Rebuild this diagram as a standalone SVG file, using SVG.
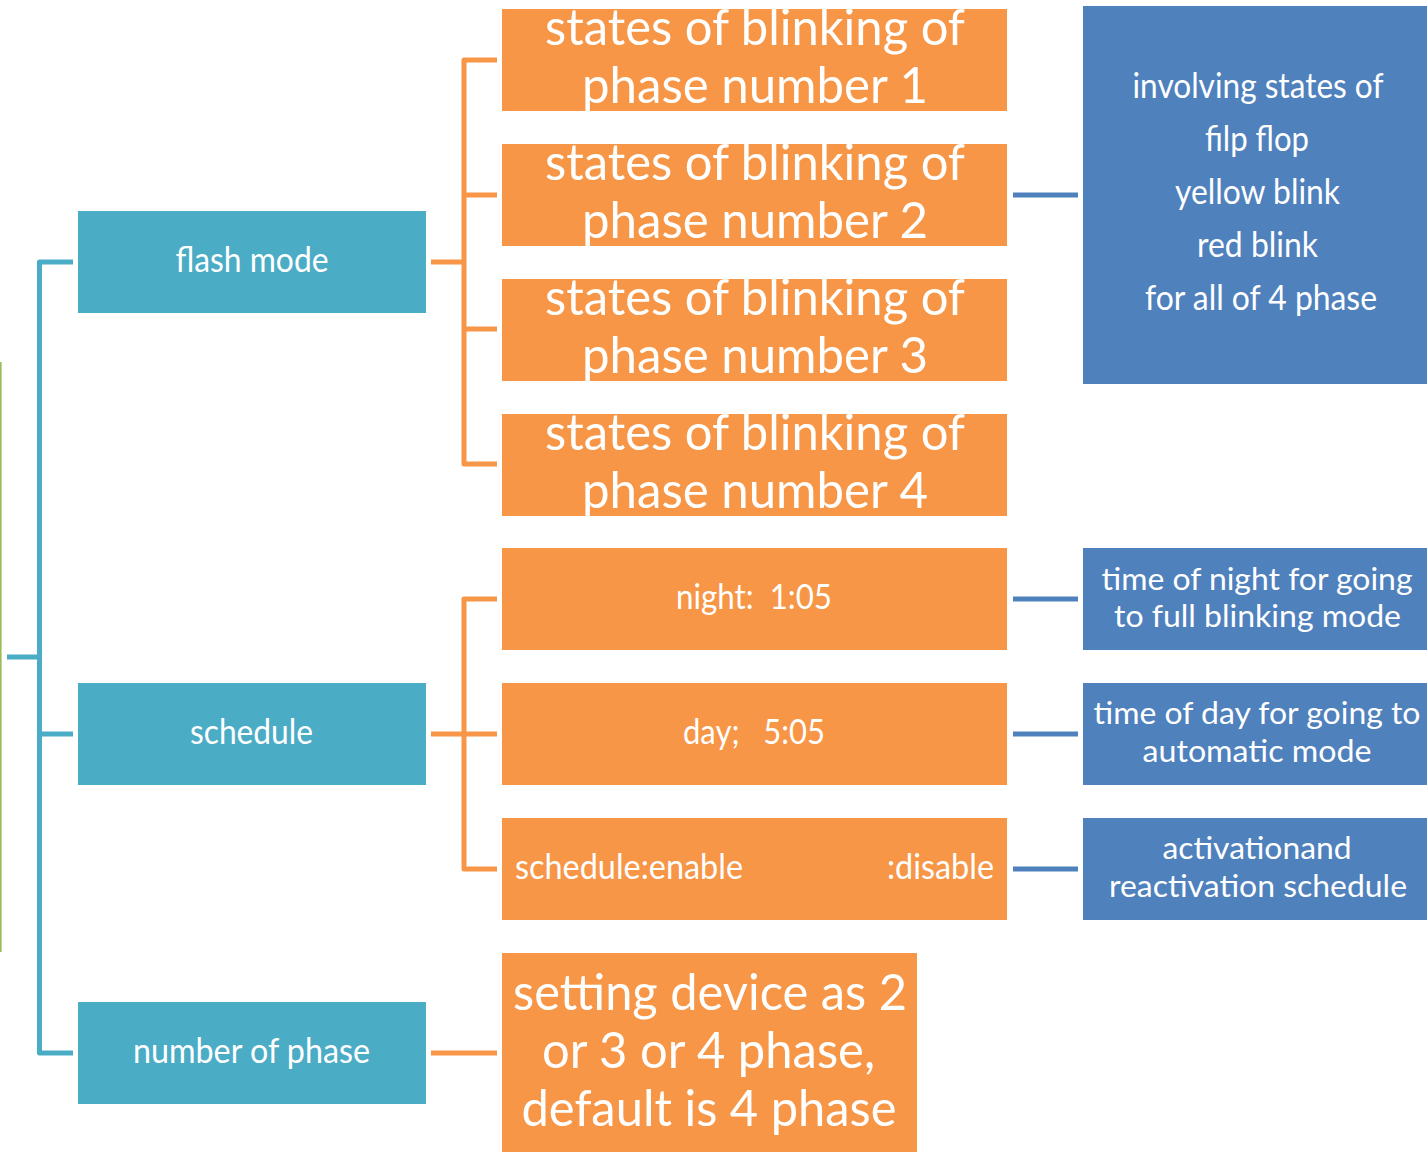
<svg xmlns="http://www.w3.org/2000/svg" width="1427" height="1152" viewBox="0 0 1427 1152">
<style>
.teal{fill:#4BACC6}
.orange{fill:#F79646}
.blue{fill:#4F81BD}
text{font-family:Lato,"Open Sans","Liberation Sans",sans-serif;fill:#FFFFFF}
.big{font-size:50px;text-anchor:middle}
.mid{font-size:34px;text-anchor:middle}
.sm{font-size:31px;text-anchor:middle}
.c-teal{fill:none;stroke:#4BACC6;stroke-width:5;stroke-linejoin:round}
.c-orange{fill:none;stroke:#F79646;stroke-width:5;stroke-linejoin:round}
.c-blue{fill:none;stroke:#4F81BD;stroke-width:5}
</style>
<rect width="1427" height="1152" fill="#FFFFFF"/>
<g id="connectors">
<line x1="0.8" y1="362" x2="0.8" y2="952" stroke="#9BBB59" stroke-width="1.6"/>
<path class="c-teal" d="M73 262 H39.5 V1053 H73"/>
<path class="c-teal" d="M7 657 H39.5 M39.5 734 H73"/>
<path class="c-orange" d="M431 262 H464 M497 60 H464 V464 H497 M464 195 H497 M464 329 H497"/>
<path class="c-orange" d="M431 734 H497 M497 599 H464 V869 H497"/>
<path class="c-orange" d="M431 1053 H497"/>
<path class="c-blue" d="M1013 195 H1078 M1013 599 H1078 M1013 734 H1078 M1013 869 H1078"/>
</g>
<g id="flash-mode">
<rect class="teal" x="78" y="211" width="348" height="102"/>
<text class="mid" x="252" y="272" textLength="153" lengthAdjust="spacingAndGlyphs">flash mode</text>
</g>
<g id="schedule">
<rect class="teal" x="78" y="683" width="348" height="102"/>
<text class="mid" x="251.5" y="744" textLength="123" lengthAdjust="spacingAndGlyphs">schedule</text>
</g>
<g id="number-of-phase">
<rect class="teal" x="78" y="1002" width="348" height="102"/>
<text class="mid" x="251.5" y="1063" textLength="237" lengthAdjust="spacingAndGlyphs">number of phase</text>
</g>
<g id="phase1">
<rect class="orange" x="502" y="9" width="505" height="102"/>
<text class="big" x="755" y="45" textLength="420" lengthAdjust="spacingAndGlyphs">states of blinking of</text>
<text class="big" x="755" y="103" textLength="346" lengthAdjust="spacingAndGlyphs">phase number 1</text>
</g>
<g id="phase2">
<rect class="orange" x="502" y="144" width="505" height="102"/>
<text class="big" x="755" y="180" textLength="420" lengthAdjust="spacingAndGlyphs">states of blinking of</text>
<text class="big" x="755" y="238" textLength="346" lengthAdjust="spacingAndGlyphs">phase number 2</text>
</g>
<g id="phase3">
<rect class="orange" x="502" y="279" width="505" height="102"/>
<text class="big" x="755" y="315" textLength="420" lengthAdjust="spacingAndGlyphs">states of blinking of</text>
<text class="big" x="755" y="373" textLength="346" lengthAdjust="spacingAndGlyphs">phase number 3</text>
</g>
<g id="phase4">
<rect class="orange" x="502" y="414" width="505" height="102"/>
<text class="big" x="755" y="450" textLength="420" lengthAdjust="spacingAndGlyphs">states of blinking of</text>
<text class="big" x="755" y="508" textLength="346" lengthAdjust="spacingAndGlyphs">phase number 4</text>
</g>
<g id="night">
<rect class="orange" x="502" y="548" width="505" height="102"/>
<text class="mid" x="754" y="609" xml:space="preserve" textLength="156" lengthAdjust="spacingAndGlyphs">night:  1:05</text>
</g>
<g id="day">
<rect class="orange" x="502" y="683" width="505" height="102"/>
<text class="mid" x="754" y="744" xml:space="preserve" textLength="142" lengthAdjust="spacingAndGlyphs">day;   5:05</text>
</g>
<g id="schedule-enable">
<rect class="orange" x="502" y="818" width="505" height="102"/>
<text x="515" y="879" font-size="34" textLength="228" lengthAdjust="spacingAndGlyphs">schedule:enable</text>
<text x="887" y="879" font-size="34" textLength="107" lengthAdjust="spacingAndGlyphs">:disable</text>
</g>
<g id="setting-device">
<rect class="orange" x="502" y="953" width="415" height="199"/>
<text class="big" x="710" y="1010" textLength="394" lengthAdjust="spacingAndGlyphs">setting device as 2</text>
<text class="big" x="708.5" y="1068" textLength="333" lengthAdjust="spacingAndGlyphs">or 3 or 4 phase,</text>
<text class="big" x="709" y="1126" textLength="375" lengthAdjust="spacingAndGlyphs">default is 4 phase</text>
</g>
<g id="involving">
<rect class="blue" x="1083" y="6" width="344" height="378"/>
<text class="mid" x="1258" y="98" textLength="251" lengthAdjust="spacingAndGlyphs">involving states of</text>
<text class="mid" x="1257" y="151" textLength="104" lengthAdjust="spacingAndGlyphs">filp flop</text>
<text class="mid" x="1257.5" y="204" textLength="165" lengthAdjust="spacingAndGlyphs">yellow blink</text>
<text class="mid" x="1257.5" y="257" textLength="121" lengthAdjust="spacingAndGlyphs">red blink</text>
<text class="mid" x="1261" y="310" textLength="232" lengthAdjust="spacingAndGlyphs">for all of 4 phase</text>
</g>
<g id="night-desc">
<rect class="blue" x="1083" y="548" width="344" height="102"/>
<text class="sm" x="1257" y="590" textLength="311" lengthAdjust="spacingAndGlyphs">time of night for going</text>
<text class="sm" x="1257.5" y="627" textLength="287" lengthAdjust="spacingAndGlyphs">to full blinking mode</text>
</g>
<g id="day-desc">
<rect class="blue" x="1083" y="683" width="344" height="102"/>
<text class="sm" x="1257" y="724" textLength="327" lengthAdjust="spacingAndGlyphs">time of day for going to</text>
<text class="sm" x="1257" y="762" textLength="229" lengthAdjust="spacingAndGlyphs">automatic mode</text>
</g>
<g id="activation-desc">
<rect class="blue" x="1083" y="818" width="344" height="102"/>
<text class="sm" x="1257" y="859" textLength="189" lengthAdjust="spacingAndGlyphs">activationand</text>
<text class="sm" x="1258" y="897" textLength="298" lengthAdjust="spacingAndGlyphs">reactivation schedule</text>
</g>
</svg>
